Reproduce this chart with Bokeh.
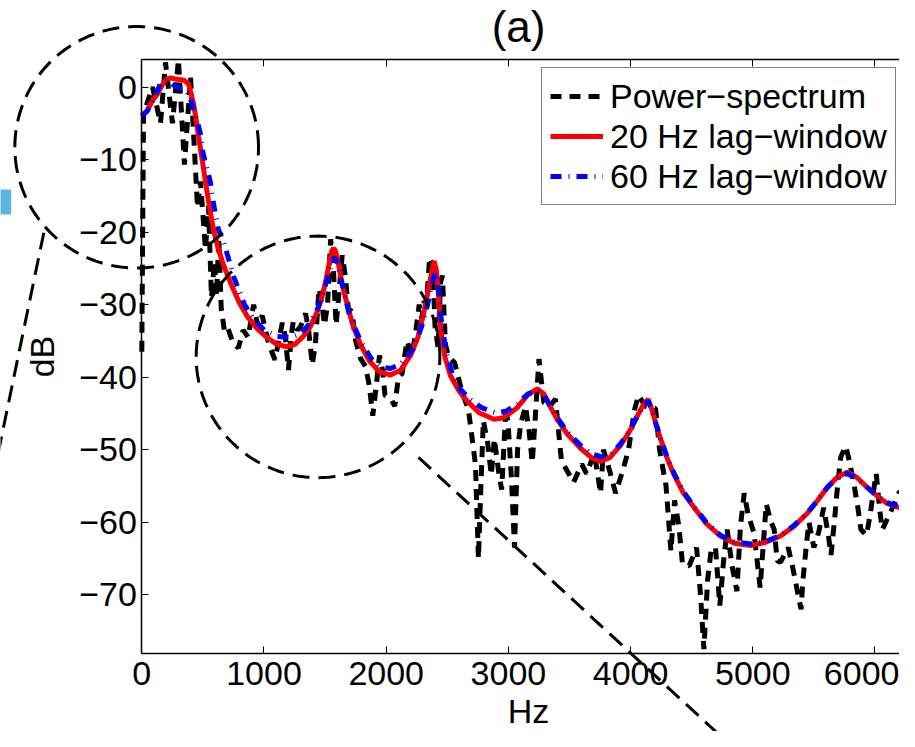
import numpy as np
from bokeh.plotting import figure
from bokeh.models import (Range1d, LinearAxis, FixedTicker, Label, PolyAnnotation,
                          Legend, LegendItem, BoxAnnotation, Arrow)
from bokeh.embed import file_html
from bokeh.resources import INLINE

FONT = "Liberation Sans"

# ---------------- axes / ticks ----------------
x_ticks = [0, 1000, 2000, 3000, 4000, 5000, 6000]
y_ticks = [-70, -60, -50, -40, -30, -20, -10, 0]
x_tick_labels = {t: str(t) for t in x_ticks}
y_tick_labels = {t: str(t).replace("-", "\u2212") for t in y_ticks}
x_axis_limits = (0, 6331)        # the axes box
y_axis_limits = (-78.1, 3.8)
title_text = "(a)"
x_label = "Hz"
y_label = "dB"

series_names = ["Power\u2212spectrum", "20 Hz lag\u2212window", "60 Hz lag\u2212window"]

# ---------------- data (Hz, dB) ----------------
power_spectrum = [
    (0, -36.5), (14, -3.7), (88, 0.0), (153, -5.0), (194, 3.4), (251, -5.0), (300, 3.8),
    (349, -10.7), (399, 1.4), (456, -16.6), (480, -13.0), (521, -22.4), (546, -16.4),
    (570, -29.0), (595, -24.0), (612, -28.8), (630, -20.8), (650, -30.5), (675, -33.5),
    (700, -33.0), (740, -35.0), (790, -36.0), (830, -33.5), (870, -34.5), (915, -30.0),
    (950, -33.0), (985, -31.5), (1040, -35.5), (1090, -37.6), (1120, -35.0), (1150, -32.5),
    (1175, -34.5), (1200, -39.0), (1225, -34.0), (1240, -32.3), (1275, -33.5), (1300, -33.0),
    (1340, -31.2), (1365, -33.5), (1395, -38.3), (1420, -35.5), (1450, -27.8), (1470, -29.5),
    (1495, -32.8), (1520, -30.0), (1545, -21.0), (1565, -24.0), (1590, -32.8), (1605, -30.0),
    (1640, -23.2), (1665, -26.0), (1690, -30.5), (1720, -31.0), (1750, -35.0), (1790, -37.4),
    (1830, -38.5), (1860, -41.0), (1890, -45.3), (1920, -41.0), (1945, -37.0), (1970, -39.0),
    (1990, -42.5), (2040, -43.0), (2070, -44.0), (2100, -40.0), (2130, -39.5), (2170, -35.0),
    (2210, -37.0), (2240, -34.0), (2270, -30.0), (2290, -32.0), (2310, -29.5), (2330, -30.0),
    (2355, -23.5), (2380, -24.5), (2400, -33.0), (2425, -36.0), (2444, -27.0), (2460, -26.0),
    (2485, -35.5), (2510, -37.2), (2560, -38.0), (2620, -42.0), (2673, -44.5), (2700, -48.0),
    (2730, -52.0), (2755, -65.0), (2775, -55.0), (2795, -46.0), (2830, -49.0), (2860, -53.5),
    (2885, -48.5), (2920, -53.0), (2945, -55.5), (2980, -44.0), (3000, -47.0), (3025, -54.0),
    (3050, -63.5), (3075, -50.0), (3100, -46.5), (3140, -44.0), (3170, -47.5), (3195, -51.8),
    (3222, -45.0), (3250, -37.5), (3290, -43.5), (3340, -44.0), (3385, -43.0), (3434, -51.5),
    (3533, -54.5), (3600, -52.0), (3639, -53.3), (3704, -50.5), (3754, -56.0), (3778, -50.0),
    (3830, -53.0), (3877, -56.0), (3934, -53.0), (3983, -50.0), (4032, -44.5), (4065, -42.5),
    (4120, -44.0), (4204, -44.3), (4237, -50.0), (4290, -55.0), (4330, -64.0), (4360, -57.0),
    (4395, -60.5), (4425, -65.8), (4480, -66.0), (4540, -63.5), (4572, -70.0), (4600, -77.5),
    (4630, -68.0), (4660, -63.7), (4695, -63.5), (4730, -71.5), (4760, -65.5), (4790, -61.0),
    (4830, -66.0), (4870, -69.5), (4899, -60.5), (4930, -56.0), (4960, -58.8), (5010, -61.5),
    (5060, -69.0), (5110, -57.5), (5150, -60.0), (5175, -61.0), (5200, -65.3), (5227, -65.5),
    (5290, -63.5), (5330, -66.5), (5365, -69.5), (5395, -72.0), (5410, -68.0), (5425, -65.5),
    (5440, -62.8), (5460, -60.0), (5500, -63.5), (5540, -61.3), (5580, -58.0), (5620, -62.0),
    (5640, -64.5), (5670, -59.5), (5685, -56.5), (5700, -54.0), (5720, -51.0), (5760, -49.5),
    (5790, -51.5), (5830, -55.0), (5860, -58.0), (5885, -61.0), (5930, -61.8), (5960, -59.0),
    (5985, -56.0), (6010, -53.3), (6040, -58.5), (6060, -61.0), (6130, -58.5), (6200, -55.8),
    (6270, -56.2), (6320, -61.0), (6335, -62.0),
]

lag_window_20 = [
    (0, -3.9), (44, -3.3), (82, -2.0), (126, -1.0), (164, 0.2), (200, 1.1), (235, 1.25),
    (280, 1.1), (317, 1.0), (350, 0.9), (382, 0.4), (405, -1.0), (423, -2.3), (445, -4.5),
    (464, -6.8), (485, -9.0), (505, -11.2), (525, -13.5), (546, -15.7), (567, -17.8),
    (587, -19.7), (608, -21.1), (628, -22.4), (670, -24.6), (726, -27.0), (800, -29.8),
    (870, -31.8), (950, -33.4), (1030, -34.6), (1100, -35.4), (1176, -35.8), (1250, -35.5),
    (1320, -34.4), (1380, -33.0), (1430, -31.2), (1470, -29.2), (1505, -26.8), (1535, -24.2),
    (1555, -22.6), (1568, -22.2), (1585, -22.6), (1605, -24.0), (1640, -27.2), (1681, -30.0),
    (1730, -33.0), (1790, -35.5), (1860, -37.7), (1940, -39.2), (2035, -39.7), (2120, -39.0),
    (2199, -37.0), (2260, -34.5), (2308, -31.1), (2350, -27.5), (2380, -24.8), (2392, -24.0),
    (2410, -25.2), (2430, -29.0), (2447, -33.5), (2480, -37.2), (2526, -39.8), (2600, -42.0),
    (2663, -43.3), (2760, -44.9), (2881, -45.8), (2960, -45.6), (3072, -44.2), (3160, -42.4),
    (3236, -41.6), (3290, -42.3), (3340, -44.0), (3400, -45.8), (3480, -47.8), (3590, -49.8),
    (3680, -51.1), (3754, -51.6), (3830, -51.1), (3917, -49.4), (3990, -47.5), (4054, -45.4),
    (4110, -43.6), (4144, -43.05), (4175, -44.5), (4210, -46.6), (4245, -48.5), (4300, -51.2),
    (4354, -53.4), (4430, -55.9), (4517, -57.9), (4620, -60.2), (4736, -61.9), (4850, -62.9),
    (4981, -63.2), (5100, -62.8), (5227, -61.9), (5340, -60.5), (5445, -58.8), (5530, -57.0),
    (5609, -55.2), (5690, -53.8), (5772, -53.1), (5850, -53.8), (5936, -55.2), (6020, -56.4),
    (6100, -57.4), (6200, -58.0), (6331, -58.3),
]

lag_window_60 = [
    (0, -4.0), (44, -3.3), (100, -1.6), (150, 0.4), (205, 1.0), (240, 0.6), (273, 0.1),
    (320, -0.2), (355, -0.3), (390, -1.2), (423, -3.0), (450, -4.5), (478, -6.3), (500, -9.0),
    (519, -10.3), (540, -11.7), (560, -13.0), (587, -16.1), (628, -19.7), (671, -21.4),
    (753, -26.2), (840, -30.0), (917, -32.0), (1000, -33.5), (1108, -34.4), (1217, -34.5),
    (1300, -34.0), (1380, -32.5), (1440, -30.5), (1490, -28.0), (1530, -25.8), (1560, -24.0),
    (1579, -23.5), (1600, -24.2), (1630, -26.5), (1653, -28.0), (1700, -31.5), (1790, -35.0),
    (1880, -37.5), (1960, -38.6), (2035, -38.8), (2120, -38.2), (2226, -36.0), (2290, -33.0),
    (2336, -30.2), (2375, -27.0), (2403, -25.5), (2425, -27.0), (2450, -32.0), (2490, -36.5),
    (2540, -39.5), (2600, -41.5), (2680, -43.0), (2780, -44.2), (2894, -44.9), (2980, -44.7),
    (3072, -43.7), (3160, -42.3), (3236, -41.9), (3290, -42.4), (3340, -43.9), (3400, -45.6),
    (3480, -47.5), (3590, -49.4), (3680, -50.6), (3770, -51.0), (3840, -50.6), (3917, -49.2),
    (3990, -47.4), (4054, -45.4), (4110, -43.8), (4144, -43.3), (4175, -44.6), (4210, -46.6),
    (4245, -48.4), (4300, -51.1), (4354, -53.2), (4430, -55.7), (4517, -57.8), (4620, -60.0),
    (4736, -61.8), (4850, -62.7), (4981, -63.0), (5100, -62.7), (5227, -61.8), (5340, -60.4),
    (5445, -58.7), (5530, -57.0), (5609, -55.2), (5690, -53.9), (5772, -53.3), (5850, -53.9),
    (5936, -55.2), (6020, -56.4), (6100, -57.3), (6200, -57.9), (6331, -58.2),
]

# zoom-indicator decorations, in data units (Hz, dB)
circle_centers = [(-42, -8.3), (1442, -37.2)]
circle_radius = (997, 16.65)
connector_lines = [((-802, -20.09), (-1675, -91.06)), ((2264, -51.06), (5308, -98.36))]
side_box = (-1160, -1069, -17.57, -14.12)   # left, right, bottom, top

# ---------------- figure ----------------
# the plotting frame fills the whole canvas; the axes box is drawn by
# fixed-location axes so that the zoom circles may cross its edges
p = figure(width=899, height=731, output_backend="svg", toolbar_location=None,
           x_range=Range1d(-1156.3, 6200.5), y_range=Range1d(-88.85, 11.935),
           x_axis_type=None, y_axis_type=None,
           min_border_left=0, min_border_right=0, min_border_top=0, min_border_bottom=0)
p.outline_line_color = None
p.background_fill_color = "white"
p.border_fill_color = "white"


def make_axis(ticks, overrides, fixed, bounds, show_labels=True):
    ax = LinearAxis(fixed_location=fixed, bounds=bounds)
    ax.ticker = FixedTicker(ticks=ticks, minor_ticks=[])
    ax.major_label_overrides = overrides
    ax.major_tick_in = 7
    ax.major_tick_out = 0
    ax.minor_tick_in = 0
    ax.minor_tick_out = 0
    ax.major_tick_line_color = "black"
    ax.major_tick_line_width = 1
    ax.axis_line_width = 1.5
    ax.axis_line_color = "black"
    ax.major_label_text_font = FONT
    ax.major_label_text_font_size = "34px" if show_labels else "0px"
    ax.major_label_text_color = "black"
    return ax


bottom_axis = make_axis(x_ticks, x_tick_labels, y_axis_limits[0], x_axis_limits)
bottom_axis.major_label_standoff = 8
p.add_layout(bottom_axis, "below")

left_axis = make_axis(y_ticks, y_tick_labels, x_axis_limits[0], y_axis_limits)
left_axis.major_label_standoff = 5
p.add_layout(left_axis, "left")

top_axis = make_axis(x_ticks, {t: "" for t in x_ticks}, y_axis_limits[1], x_axis_limits,
                     show_labels=False)
top_axis.major_label_standoff = 0
p.add_layout(top_axis, "above")

# ---------------- series ----------------
bx, by = zip(*power_spectrum)
rx, ry = zip(*lag_window_20)
ux, uy = zip(*lag_window_60)

r_black = p.line(list(bx), list(by), line_color="black", line_width=5, line_dash="11 8")
r_red = p.line(list(rx), list(ry), line_color="#ff0000", line_width=5)
r_blue = p.line(list(ux), list(uy), line_color="#0000ff", line_width=5, line_dash="11 7 1 7")

# ---------------- decorations ----------------
theta = np.linspace(0, 2 * np.pi, 241)
for cx, cy in circle_centers:
    p.add_layout(PolyAnnotation(
        xs=list(cx + circle_radius[0] * np.cos(theta)),
        ys=list(cy + circle_radius[1] * np.sin(theta)),
        xs_units="data", ys_units="data",
        fill_color=None, fill_alpha=0, line_color="black", line_alpha=1, line_width=3,
        line_dash="17 9"))

for (x0, y0), (x1, y1) in connector_lines:
    p.add_layout(Arrow(end=None, x_start=x0, y_start=y0, x_end=x1, y_end=y1,
                       line_color="black", line_width=3, line_dash="17 9"))

p.add_layout(BoxAnnotation(left=side_box[0], right=side_box[1], bottom=side_box[2],
                           top=side_box[3], fill_color="#5db6e0", fill_alpha=1,
                           line_color=None))

# title and axis labels (anchored at their centres)
p.add_layout(Label(x=3083, y=8.39, text=title_text, text_font=FONT, text_font_size="44px",
                   text_align="center", text_baseline="middle", text_color="black"))
p.add_layout(Label(x=3164, y=-85.96, text=x_label, text_font=FONT, text_font_size="34px",
                   text_align="center", text_baseline="middle", text_color="black"))
p.add_layout(Label(x=-813, y=-37.15, text=y_label, text_font=FONT, text_font_size="34px",
                   angle=np.pi / 2, text_align="center", text_baseline="middle",
                   text_color="black"))

# ---------------- legend ----------------
legend = Legend(items=[LegendItem(label=series_names[0], renderers=[r_black]),
                       LegendItem(label=series_names[1], renderers=[r_red]),
                       LegendItem(label=series_names[2], renderers=[r_blue])],
                location=(541, 526))
legend.label_text_font = FONT
legend.label_text_font_size = "34px"
legend.label_text_color = "black"
legend.glyph_width = 53
legend.glyph_height = 40
legend.label_height = 40
legend.label_standoff = 7
legend.spacing = 0
legend.padding = 8
legend.margin = 0
legend.border_line_color = "black"
legend.border_line_width = 1.5
legend.background_fill_color = "white"
legend.background_fill_alpha = 1
p.add_layout(legend)

open("out.html", "w").write(file_html(p, INLINE))
